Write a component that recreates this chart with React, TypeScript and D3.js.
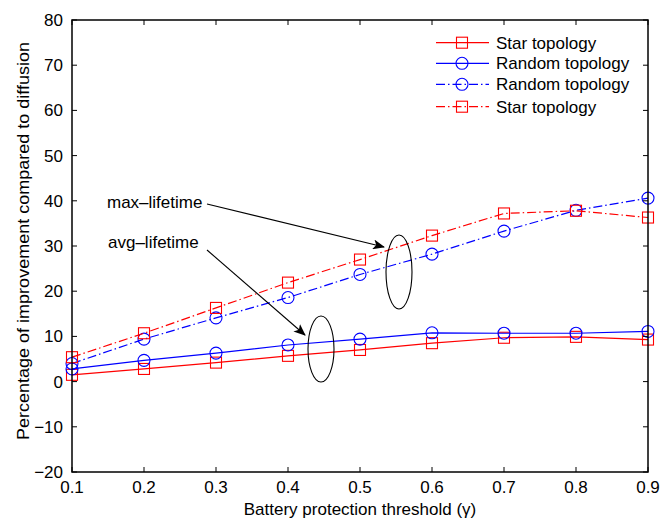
import React from "react";
import * as d3 from "d3";

const thresholds = [0.1, 0.2, 0.3, 0.4, 0.5, 0.6, 0.7, 0.8, 0.9];
const starAvg = [1.5, 2.8, 4.2, 5.7, 7.0, 8.5, 9.7, 9.9, 9.3];
const randomAvg = [2.8, 4.7, 6.3, 8.1, 9.4, 10.8, 10.7, 10.7, 11.1];
const randomMax = [4.0, 9.4, 14.1, 18.6, 23.7, 28.2, 33.3, 37.9, 40.6];
const starMax = [5.4, 10.7, 16.3, 21.9, 27.0, 32.3, 37.2, 37.8, 36.3];
const xTicks = [0.1, 0.2, 0.3, 0.4, 0.5, 0.6, 0.7, 0.8, 0.9];
const yTicks = [-20, -10, 0, 10, 20, 30, 40, 50, 60, 70, 80];
const seriesNames = ["Star topology", "Random topology", "Random topology", "Star topology"];

const W = 660, H = 519;
const M = { left: 72, right: 648, top: 20, bottom: 472 };
const FONT = "Liberation Sans, Arial, Helvetica, sans-serif";
const FS = 17;

export default function App() {
  const x = d3.scaleLinear().domain([0.1, 0.9]).range([M.left, M.right]);
  const y = d3.scaleLinear().domain([-20, 80]).range([M.bottom, M.top]);
  const line = d3.line<number>().x((_, i) => x(thresholds[i])).y((v) => y(v));

  const series = [
    { vals: starAvg, color: "#ff0000", dash: undefined as string | undefined, marker: "square" },
    { vals: randomAvg, color: "#0000ff", dash: undefined, marker: "circle" },
    { vals: randomMax, color: "#0000ff", dash: "9,3,1.5,3", marker: "circle" },
    { vals: starMax, color: "#ff0000", dash: "9,3,1.5,3", marker: "square" },
  ];

  const marker = (m: string, cx: number, cy: number, color: string, key: string) =>
    m === "square" ? (
      <rect key={key} x={cx - 5.5} y={cy - 5.5} width={11} height={11} fill="none" stroke={color} strokeWidth={1.1} />
    ) : (
      <circle key={key} cx={cx} cy={cy} r={6} fill="none" stroke={color} strokeWidth={1.1} />
    );

  const tickLen = 5;
  const legendRows = [42.7, 63.3, 84.3, 106.7];

  return (
    <svg width={W} height={H} style={{ position: "absolute", left: 0, top: 0, background: "#fff" }} fontFamily={FONT}>
      <defs>
        <marker id="arrowhead" viewBox="0 0 12 10" refX="11" refY="5" markerWidth="12" markerHeight="10" markerUnits="userSpaceOnUse" orient="auto">
          <path d="M0,0 L12,5 L0,10 L3,5 Z" fill="#000" />
        </marker>
      </defs>
      <rect x={0} y={0} width={W} height={H} fill="#fff" />
      {/* series */}
      {series.map((s, si) => (
        <g key={si}>
          <path d={line(s.vals) || ""} fill="none" stroke={s.color} strokeWidth={1.2} strokeDasharray={s.dash} />
          {s.vals.map((v, i) => marker(s.marker, x(thresholds[i]), y(v), s.color, `${si}-${i}`))}
        </g>
      ))}
      {/* axes box */}
      <rect x={M.left} y={M.top} width={M.right - M.left} height={M.bottom - M.top} fill="none" stroke="#000" strokeWidth={1.5} />
      {xTicks.map((t) => (
        <g key={`xt${t}`}>
          <line x1={x(t)} x2={x(t)} y1={M.bottom} y2={M.bottom - tickLen} stroke="#000" />
          <line x1={x(t)} x2={x(t)} y1={M.top} y2={M.top + tickLen} stroke="#000" />
          <text x={x(t)} y={M.bottom + 21} fontSize={FS} textAnchor="middle">{t.toFixed(1)}</text>
        </g>
      ))}
      {yTicks.map((t) => (
        <g key={`yt${t}`}>
          <line x1={M.left} x2={M.left + tickLen} y1={y(t)} y2={y(t)} stroke="#000" />
          <line x1={M.right} x2={M.right - tickLen} y1={y(t)} y2={y(t)} stroke="#000" />
          <text x={M.left - 9} y={y(t) + 6} fontSize={FS} textAnchor="end">{t < 0 ? `\u2212${Math.abs(t)}` : t}</text>
        </g>
      ))}
      <text x={(M.left + M.right) / 2} y={515} fontSize={FS} textAnchor="middle">Battery protection threshold (γ)</text>
      <text transform={`translate(29,241) rotate(-90)`} fontSize={FS} textAnchor="middle" textLength={398} lengthAdjust="spacingAndGlyphs">
        Percentage of improvement compared to diffusion
      </text>
      {/* legend */}
      {series.map((s, i) => (
        <g key={`lg${i}`}>
          <line x1={436} x2={489} y1={legendRows[i]} y2={legendRows[i]} stroke={s.color} strokeWidth={1.2} strokeDasharray={s.dash} />
          {marker(s.marker, 462, legendRows[i], s.color, `lm${i}`)}
          <text x={496} y={legendRows[i] + 6} fontSize={FS}>{seriesNames[i]}</text>
        </g>
      ))}
      {/* annotations */}
      <text x={107} y={208} fontSize={FS}>max–lifetime</text>
      <line x1={207} x2={384} y1={204} y2={247} stroke="#000" strokeWidth={1.1} markerEnd="url(#arrowhead)" />
      <ellipse cx={399} cy={272} rx={13} ry={37} fill="none" stroke="#000" strokeWidth={1.1} />
      <text x={108} y={248} fontSize={FS}>avg–lifetime</text>
      <line x1={207} x2={305} y1={250} y2={335} stroke="#000" strokeWidth={1.1} markerEnd="url(#arrowhead)" />
      <ellipse cx={321} cy={349} rx={13} ry={33} fill="none" stroke="#000" strokeWidth={1.1} />
    </svg>
  );
}
